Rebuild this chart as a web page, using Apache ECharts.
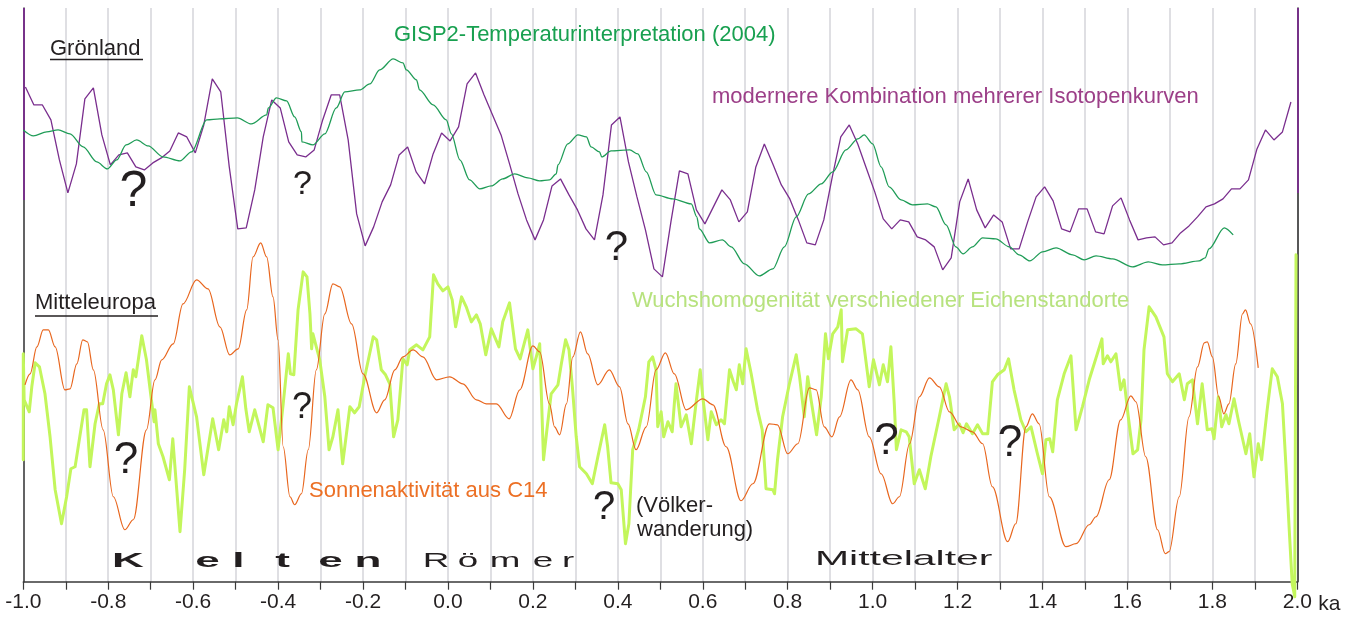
<!DOCTYPE html>
<html>
<head>
<meta charset="utf-8">
<script src="https://cdn.jsdelivr.net/npm/echarts@6/dist/echarts.min.js"></script>
<style>
  html, body { margin: 0; padding: 0; background: #fff; }
  #main { width: 1359px; height: 617px; }
</style>
</head>
<body>
<div id="main"></div>
<script>
// Grönland: Isotopen-Kombination, alle 20 Jahre ab -0.995 ka
var isoStart = -0.995;
var isoStep = 0.02;
var isoValues = [
  49.5, 47.7, 47.7, 46.2, 42.2, 38.9, 41.8, 48.3, 49.4, 44.7,
  41.7, 42.7, 42.9, 41.5, 41.2, 41.9, 42.4, 43.1, 44.9, 44.5,
  42.9, 45.7, 50.3, 49.0, 41.5, 35.3, 35.4, 39.2, 44.5, 48.2,
  47.4, 44.0, 42.7, 42.5, 43.2, 46.2, 48.7, 48.7, 44.2, 36.8,
  33.6, 35.5, 38.0, 39.7, 42.7, 43.5, 41.0, 39.8, 42.8, 44.9,
  44.1, 45.5, 49.8, 50.9, 48.7, 46.7, 44.7, 41.8, 38.8, 36.2,
  34.2, 36.2, 39.6, 40.3, 38.7, 37.2, 35.3, 34.2, 38.7, 45.7,
  46.5, 42.0, 38.5, 35.2, 31.3, 30.5, 36.0, 41.1, 40.8, 37.2,
  35.8, 37.5, 39.2, 38.2, 36.0, 37.0, 41.5, 43.8, 41.8, 39.7,
  38.3, 36.2, 33.9, 33.7, 36.2, 40.5, 44.5, 45.7, 43.8, 41.4,
  39.0, 36.3, 35.3, 36.2, 36.0, 34.5, 34.2, 33.5, 31.2, 32.4,
  38.0, 40.3, 37.2, 35.4, 36.7, 36.0, 33.3, 33.3, 36.0, 38.5,
  39.5, 38.1, 35.3, 35.0, 37.3, 37.3, 35.0, 34.8, 37.6, 38.4,
  36.2, 34.2, 34.4, 34.5, 33.7, 33.9, 34.9, 35.6, 36.5, 37.5,
  37.8, 38.3, 39.3, 39.3, 40.2, 43.3, 45.2, 44.2, 45.0, 48.0
];
// Randstriche der Isotopenkurve [ka, unterer Wert]
var isoEdges = [[-1.0, 38.2], [2.0, 38.9]];

// GISP2-Temperaturinterpretation (2004)
var gispPoints = [
  [-1.0,45.2],[-0.976,44.6],[-0.945,45.0],[-0.918,45.2],[-0.890,44.8],[-0.859,43.5],[-0.827,42.0],[-0.802,41.3],
  [-0.780,42.2],[-0.758,43.7],[-0.733,44.2],[-0.706,43.6],[-0.671,42.5],[-0.631,42.1],[-0.604,43.0],[-0.568,46.2],
  [-0.537,46.3],[-0.496,46.4],[-0.463,45.8],[-0.427,46.7],[-0.423,47.4],[-0.404,48.4],[-0.380,48.1],[-0.361,46.5],
  [-0.345,45.0],[-0.344,44.0],[-0.318,43.7],[-0.290,44.8],[-0.263,47.4],[-0.243,49.0],[-0.208,49.2],[-0.184,49.8],
  [-0.161,51.2],[-0.129,52.3],[-0.106,51.9],[-0.098,51.2],[-0.074,50.2],[-0.067,49.2],[-0.035,47.7],[-0.004,46.2],
  [0.008,44.8],[0.028,42.2],[0.051,40.2],[0.075,39.3],[0.102,39.6],[0.129,40.3],[0.157,40.8],[0.188,40.4],
  [0.216,40.1],[0.239,40.2],[0.255,40.8],[0.259,41.7],[0.282,43.8],[0.306,44.7],[0.326,44.5],[0.337,43.5],
  [0.357,43.0],[0.362,42.5],[0.384,43.1],[0.428,43.2],[0.447,42.8],[0.467,41.0],[0.490,38.7],[0.529,38.3],
  [0.573,37.8],[0.586,36.5],[0.592,35.3],[0.616,33.9],[0.646,34.2],[0.667,33.5],[0.698,31.8],[0.733,30.6],
  [0.765,31.3],[0.792,33.5],[0.820,36.5],[0.849,38.8],[0.879,39.8],[0.906,41.0],[0.937,43.2],[0.965,44.3],
  [0.980,44.7],[1.000,43.8],[1.020,41.5],[1.039,39.5],[1.067,38.2],[1.094,37.7],[1.129,37.8],[1.149,37.5],
  [1.173,35.7],[1.196,33.5],[1.213,32.8],[1.235,33.5],[1.259,34.4],[1.290,34.3],[1.322,33.5],[1.345,32.7],
  [1.370,32.1],[1.400,33.0],[1.432,33.4],[1.471,32.7],[1.498,32.2],[1.526,32.6],[1.565,32.3],[1.612,31.5],
  [1.649,32.0],[1.682,31.7],[1.722,31.8],[1.769,32.1],[1.783,32.4],[1.792,33.3],[1.828,35.4],[1.849,34.7]
];

// Sonnenaktivität aus C14
var solarPoints = [
  [-0.996,19.7],[-0.984,20.8],[-0.968,23.5],[-0.953,25.2],[-0.941,25.2],[-0.925,23.5],[-0.902,19.2],[-0.890,19.3],
  [-0.874,21.8],[-0.860,24.2],[-0.849,24.0],[-0.835,21.2],[-0.812,15.2],[-0.788,8.5],[-0.761,5.2],[-0.741,6.2],
  [-0.710,15.2],[-0.690,20.2],[-0.674,22.2],[-0.647,23.8],[-0.624,27.8],[-0.592,30.2],[-0.565,29.3],[-0.537,25.5],
  [-0.514,22.7],[-0.494,23.3],[-0.474,27.2],[-0.459,32.5],[-0.441,33.9],[-0.427,32.5],[-0.412,28.5],[-0.400,24.2],
  [-0.388,13.5],[-0.372,8.5],[-0.361,7.7],[-0.345,8.8],[-0.329,13.2],[-0.310,21.2],[-0.290,26.8],[-0.271,29.8],
  [-0.255,29.5],[-0.227,25.8],[-0.200,20.8],[-0.168,16.9],[-0.149,18.2],[-0.125,21.2],[-0.106,22.5],[-0.082,23.2],
  [-0.059,22.5],[-0.027,20.2],[0.004,20.5],[0.035,19.8],[0.067,18.2],[0.090,17.8],[0.114,17.8],[0.144,16.3],
  [0.169,19.2],[0.200,23.6],[0.216,23.0],[0.239,17.8],[0.251,15.5],[0.263,14.7],[0.279,17.8],[0.294,22.5],
  [0.312,25.0],[0.329,22.8],[0.353,19.7],[0.380,21.2],[0.404,19.5],[0.424,15.8],[0.443,13.2],[0.467,15.5],
  [0.490,21.2],[0.512,22.9],[0.533,20.8],[0.561,17.2],[0.600,18.3],[0.624,17.7],[0.655,13.5],[0.690,8.1],
  [0.718,9.8],[0.757,15.8],[0.776,15.7],[0.800,12.8],[0.824,13.8],[0.851,19.4],[0.867,19.2],[0.886,15.5],
  [0.904,14.5],[0.922,16.5],[0.949,20.2],[0.965,19.2],[0.992,14.5],[1.020,10.8],[1.047,7.8],[1.063,8.5],
  [1.087,13.8],[1.110,18.5],[1.134,20.4],[1.157,19.5],[1.181,17.0],[1.208,15.5],[1.235,15.0],[1.259,13.8],
  [1.282,9.5],[1.318,4.0],[1.337,5.8],[1.361,15.5],[1.376,16.8],[1.392,15.8],[1.416,8.5],[1.455,3.5],
  [1.479,3.8],[1.510,5.7],[1.526,6.5],[1.557,10.2],[1.584,16.2],[1.608,18.6],[1.620,18.0],[1.643,12.5],
  [1.671,5.2],[1.689,2.8],[1.698,3.0],[1.722,8.5],[1.745,16.5],[1.765,21.5],[1.781,23.9],[1.788,24.0],
  [1.800,22.5],[1.815,18.5],[1.827,16.8],[1.839,17.8],[1.855,21.8],[1.871,26.8],[1.878,27.2],[1.890,25.8],
  [1.908,21.4]
];

// Wuchshomogenität verschiedener Eichenstandorte
var oakPoints = [
  [-1.0,12.2],[-1.0,22.8],[-0.998,18.2],[-0.986,17.0],[-0.980,19.5],[-0.972,21.9],[-0.962,21.5],[-0.949,18.8],[-0.937,14.5],[-0.925,9.2],
  [-0.910,5.8],[-0.898,8.5],[-0.888,11.3],[-0.878,11.5],[-0.867,14.5],[-0.857,17.2],[-0.851,17.2],[-0.843,11.5],[-0.831,15.8],[-0.821,17.8],
  [-0.813,17.8],[-0.804,19.8],[-0.796,20.7],[-0.788,19.2],[-0.776,14.7],[-0.768,18.8],[-0.758,20.9],[-0.749,18.5],[-0.741,21.2],[-0.735,20.5],
  [-0.721,24.6],[-0.710,22.2],[-0.692,16.0],[-0.690,17.2],[-0.682,13.8],[-0.671,12.5],[-0.656,10.2],[-0.648,14.3],[-0.631,5.0],[-0.620,11.2],
  [-0.609,19.5],[-0.592,16.5],[-0.575,10.7],[-0.554,16.3],[-0.540,13.2],[-0.528,16.2],[-0.521,15.0],[-0.515,17.5],[-0.506,15.7],[-0.498,17.8],
  [-0.484,20.5],[-0.476,17.3],[-0.468,15.0],[-0.455,17.2],[-0.435,14.0],[-0.424,17.7],[-0.412,17.4],[-0.400,13.2],[-0.388,17.8],[-0.376,22.8],
  [-0.371,20.8],[-0.363,20.7],[-0.353,27.2],[-0.341,31.0],[-0.332,30.5],[-0.325,26.8],[-0.321,23.3],[-0.318,24.8],[-0.314,24.8],[-0.302,22.2],
  [-0.290,18.5],[-0.280,13.2],[-0.271,14.5],[-0.259,17.2],[-0.248,11.8],[-0.231,17.5],[-0.220,16.9],[-0.209,17.5],[-0.196,20.5],[-0.176,24.5],
  [-0.168,24.2],[-0.157,21.2],[-0.147,20.7],[-0.137,19.8],[-0.128,14.5],[-0.118,16.2],[-0.106,22.3],[-0.096,21.7],[-0.090,23.2],[-0.074,23.7],
  [-0.059,23.2],[-0.043,24.5],[-0.034,30.7],[-0.024,29.8],[-0.012,29.1],[0.000,29.5],[0.010,28.2],[0.018,25.5],[0.032,28.5],[0.043,27.5],
  [0.055,26.0],[0.067,26.7],[0.076,25.8],[0.089,22.7],[0.102,25.3],[0.120,23.5],[0.129,26.0],[0.145,27.9],[0.159,23.3],[0.170,22.3],
  [0.188,25.2],[0.200,21.3],[0.208,22.5],[0.216,23.8],[0.225,12.2],[0.233,15.2],[0.243,18.8],[0.259,19.7],[0.267,21.8],[0.277,24.2],
  [0.285,23.2],[0.293,19.5],[0.302,14.5],[0.310,11.5],[0.326,10.8],[0.340,9.8],[0.353,12.5],[0.369,15.7],[0.376,13.5],[0.384,9.9],
  [0.400,9.8],[0.408,9.2],[0.418,3.8],[0.426,5.8],[0.435,13.2],[0.449,15.2],[0.465,18.5],[0.473,22.0],[0.482,22.5],[0.490,21.2],
  [0.494,15.5],[0.502,17.0],[0.508,14.5],[0.518,16.0],[0.528,15.0],[0.533,17.8],[0.537,19.8],[0.549,15.5],[0.561,16.7],[0.573,13.8],
  [0.584,17.8],[0.594,21.2],[0.600,18.5],[0.612,14.2],[0.620,17.0],[0.632,15.7],[0.643,16.2],[0.651,15.8],[0.663,21.2],[0.672,20.0],
  [0.679,19.2],[0.686,21.7],[0.694,19.8],[0.702,23.3],[0.714,20.8],[0.729,17.2],[0.740,15.2],[0.749,9.3],[0.765,9.2],[0.769,8.8],
  [0.776,12.2],[0.788,16.5],[0.804,19.8],[0.820,22.7],[0.828,20.5],[0.839,16.5],[0.847,20.5],[0.855,18.2],[0.868,14.7],[0.879,18.5],
  [0.889,24.8],[0.896,22.3],[0.906,24.8],[0.918,25.5],[0.926,27.2],[0.929,22.0],[0.941,25.2],[0.961,25.3],[0.976,24.8],[0.992,19.5],
  [1.002,22.2],[1.016,19.7],[1.025,21.7],[1.035,20.0],[1.043,23.5],[1.051,17.8],[1.056,13.2],[1.067,15.2],[1.079,15.0],[1.086,14.5],
  [1.098,9.8],[1.110,11.2],[1.124,9.3],[1.137,12.5],[1.157,16.5],[1.173,19.8],[1.181,18.5],[1.192,15.2],[1.204,15.8],[1.213,14.9],
  [1.221,15.8],[1.235,14.8],[1.247,15.7],[1.259,14.8],[1.271,14.8],[1.282,20.0],[1.294,20.7],[1.310,21.2],[1.320,22.3],[1.333,19.2],
  [1.349,16.2],[1.361,15.0],[1.373,15.5],[1.388,12.8],[1.400,10.8],[1.408,14.2],[1.417,14.3],[1.424,13.0],[1.435,18.2],[1.451,20.8],
  [1.467,22.6],[1.479,15.2],[1.494,17.5],[1.510,20.2],[1.540,24.3],[1.543,21.8],[1.553,22.6],[1.561,22.0],[1.573,22.8],[1.584,19.2],
  [1.592,20.2],[1.602,16.5],[1.613,12.8],[1.624,13.2],[1.632,16.2],[1.639,23.2],[1.651,27.5],[1.667,26.5],[1.686,24.5],[1.694,20.8],
  [1.706,20.0],[1.722,20.8],[1.734,18.2],[1.741,19.8],[1.753,20.2],[1.765,15.8],[1.776,19.8],[1.788,15.2],[1.799,15.3],[1.804,14.3],
  [1.814,18.5],[1.822,15.5],[1.832,16.7],[1.839,15.8],[1.851,18.3],[1.861,16.2],[1.879,12.8],[1.888,14.8],[1.898,10.5],[1.908,13.8],
  [1.916,12.2],[1.929,17.2],[1.941,21.3],[1.953,20.5],[1.965,17.8],[1.973,11.8],[1.981,5.2],[1.988,-0.2],[1.994,-1.5],[1.997,32.7]
];

var FONT = '"Liberation Sans", Arial, Helvetica, sans-serif';
var INK = '#231f20';

var isoData = isoValues.map(function (v, i) {
  return [+(isoStart + i * isoStep).toFixed(3), v];
});

// Beschriftungen
function txt(text, x, y, color, font, extra) {
  var el = {
    type: 'text', x: x, y: y, silent: true, z: 50,
    style: {
      text: text, fill: color, font: font,
      textAlign: 'left', textVerticalAlign: 'middle', verticalAlign: 'middle'
    }
  };
  if (extra) {
    for (var k in extra) {
      if (k === 'style') { for (var s in extra.style) el.style[s] = extra.style[s]; }
      else el[k] = extra[k];
    }
  }
  return el;
}
function underline(x1, x2, y) {
  return { type: 'line', silent: true, z: 50,
    shape: { x1: x1, y1: y, x2: x2, y2: y },
    style: { stroke: INK, lineWidth: 1.5 } };
}
// breit gezogene Epochennamen, Buchstabe fuer Buchstabe
function wideLetters(letters, centers, y, font, sx) {
  return letters.map(function (ch, i) {
    return txt(ch, centers[i], y, INK, font, { scaleX: sx, style: { textAlign: 'center' } });
  });
}
function question(x, y, size) {
  return txt('?', x, y, INK, size + 'px ' + FONT, { style: { textAlign: 'center' } });
}

var graphics = [
  txt('Grönland', 50, 49, INK, '22px ' + FONT),
  underline(50, 143, 59.5),
  txt('Mitteleuropa', 35, 303, INK, '22px ' + FONT),
  underline(35, 158, 316),
  txt('GISP2-Temperaturinterpretation (2004)', 394, 35, '#18a050', '22px ' + FONT),
  txt('modernere Kombination mehrerer Isotopenkurven', 712, 97, '#9c3f88', '22px ' + FONT),
  txt('Wuchshomogenität verschiedener Eichenstandorte', 632, 301, '#b7e27e', '22px ' + FONT),
  txt('Sonnenaktivität aus C14', 309, 491, '#ec7025', '22px ' + FONT),
  txt('(Völker-', 636, 506, INK, '22px ' + FONT),
  txt('wanderung)', 637, 530, INK, '22px ' + FONT),
  txt('Mittelalter', 815, 559.5, INK, '21px ' + FONT, { scaleX: 1.95 }),
  question(133.5, 192, 50),
  question(302.5, 185, 34),
  question(616.5, 248, 42),
  question(126, 461, 44),
  question(302, 408, 36),
  question(604, 508, 40),
  question(886.5, 442, 44),
  question(1010, 444, 44)
].concat(
  wideLetters(['K', 'e', 'l', 't', 'e', 'n'], [128, 207.5, 238.5, 282.5, 330.5, 368], 561, 'bold 21px ' + FONT, 2.1),
  wideLetters(['R', 'ö', 'm', 'e', 'r'], [436, 468, 505, 543, 568], 561, '21px ' + FONT, 1.75)
);

var myChart = echarts.init(document.getElementById('main'));

var option = {
  animation: false,
  backgroundColor: '#ffffff',
  grid: { left: 23.3, right: 61.7, top: 8, bottom: 35.3 },
  xAxis: {
    type: 'value',
    min: -1,
    max: 2,
    interval: 0.1,
    name: 'ka',
    nameLocation: 'end',
    nameGap: 21,
    nameTextStyle: {
      fontSize: 21, color: INK, fontFamily: FONT,
      verticalAlign: 'top', padding: [12, 0, 0, 0]
    },
    axisLine: { onZero: false, lineStyle: { color: '#3a3a3a', width: 1.5 } },
    axisTick: { length: 8, lineStyle: { color: '#3a3a3a', width: 1.2 } },
    axisLabel: {
      margin: 10,
      fontSize: 21,
      color: INK,
      fontFamily: FONT,
      formatter: function (v) {
        var t = Math.round(v * 10);
        if (t % 2 !== 0) return '';
        return (t / 10).toFixed(1);
      }
    },
    splitLine: { show: true, lineStyle: { color: '#d4d4da', width: 1.5 } }
  },
  yAxis: [{
    type: 'value', min: 0, max: 57.4, position: 'left',
    axisLine: { show: true, onZero: false, lineStyle: { color: '#3a3a3a', width: 1.5 } },
    axisTick: { show: false }, axisLabel: { show: false }, splitLine: { show: false }
  }, {
    type: 'value', min: 0, max: 57.4, position: 'right',
    axisLine: { show: true, onZero: false, lineStyle: { color: '#2a2a2a', width: 1.5 } },
    axisTick: { show: false }, axisLabel: { show: false }, splitLine: { show: false }
  }],
  series: [
    {
      name: 'Wuchshomogenität',
      type: 'line',
      data: oakPoints,
      showSymbol: false,
      clip: false,
      z: 3,
      lineStyle: { color: '#c3f65c', width: 3, join: 'round', cap: 'round' }
    },
    {
      name: 'Sonnenaktivität',
      type: 'line',
      data: solarPoints,
      showSymbol: false,
      smooth: 0.35,
      smoothMonotone: 'x',
      z: 4,
      lineStyle: { color: '#e8661e', width: 1.2 }
    },
    {
      name: 'Isotopen',
      type: 'line',
      data: isoData,
      showSymbol: false,
      z: 5,
      lineStyle: { color: '#7a2e8e', width: 1.3 },
      markLine: {
        silent: true,
        symbol: ['none', 'none'],
        label: { show: false },
        lineStyle: { color: '#7a2e8e', width: 1.8, type: 'solid' },
        data: isoEdges.map(function (e) {
          return [{ coord: [e[0], e[1]] }, { coord: [e[0], 57.4] }];
        })
      }
    },
    {
      name: 'GISP2',
      type: 'line',
      data: gispPoints,
      showSymbol: false,
      smooth: 0.3,
      smoothMonotone: 'x',
      z: 6,
      lineStyle: { color: '#1f9c57', width: 1.3 }
    }
  ],
  graphic: graphics
};

myChart.setOption(option);
window.onresize = myChart.resize;
</script>
</body>
</html>
